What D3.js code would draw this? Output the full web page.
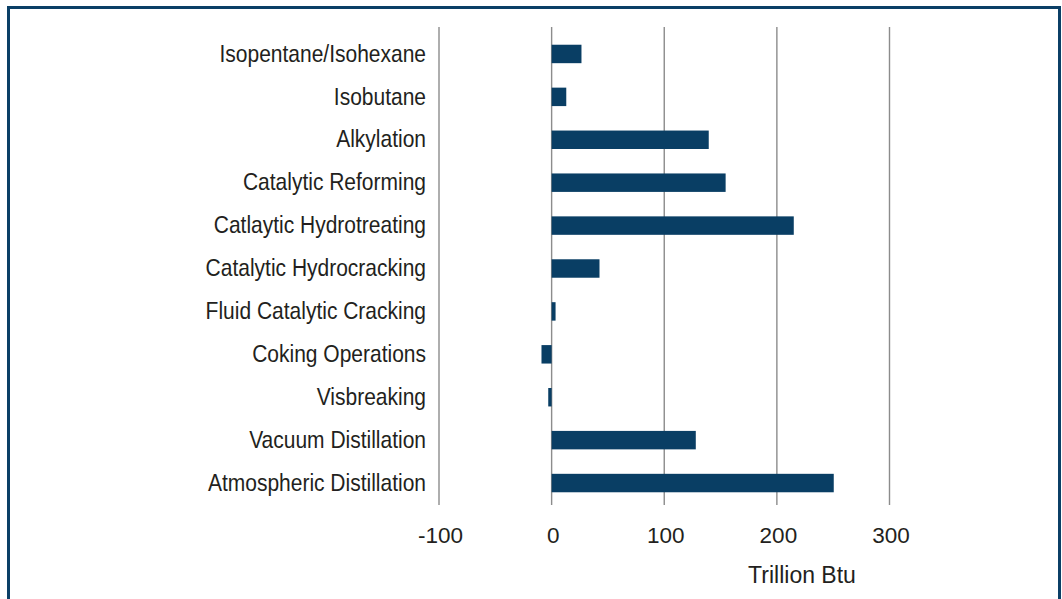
<!DOCTYPE html>
<html>
<head>
<meta charset="utf-8">
<script src="https://cdn.jsdelivr.net/npm/d3@7"></script>
<style>
  body { margin: 0; background: #fff; }
  svg { display: block; }
</style>
</head>
<body>
<div id="chart"></div>
<script>
var categories = ["Isopentane/Isohexane", "Isobutane", "Alkylation", "Catalytic Reforming",
  "Catlaytic Hydrotreating", "Catalytic Hydrocracking", "Fluid Catalytic Cracking",
  "Coking Operations", "Visbreaking", "Vacuum Distillation", "Atmospheric Distillation"];
var values = [26.5, 13, 139.5, 154.5, 215, 42.5, 3.5, -9, -3, 128, 250.5];
var tickValues = [-100, 0, 100, 200, 300];
var axisTitle = "Trillion Btu";

var w = 1062, h = 599;
var barColor = "#093e64";
var textColor = "#231f20";

var svg = d3.select("#chart")
	.append("svg")
	.attr("width", w)
	.attr("height", h);

var x = d3.scaleLinear()
	.domain([-100, 300])
	.range([439, 889.5]);

var y = d3.scaleBand()
	.domain(categories)
	.range([32.5, 504.5])
	.paddingInner(0.57)
	.paddingOuter(0.285);

// vertical gridlines
svg.append("g").selectAll("line")
	.data(tickValues)
	.enter()
	.append("line")
	.attr("x1", function(d){ return x(d); })
	.attr("x2", function(d){ return x(d); })
	.attr("y1", 27)
	.attr("y2", 505)
	.attr("stroke", "#8c8c8c")
	.attr("stroke-width", 1.4);

// bars
svg.append("g").selectAll("rect")
	.data(values)
	.enter()
	.append("rect")
	.attr("x", function(d){ return x(Math.min(0, d)); })
	.attr("width", function(d){ return Math.abs(x(d) - x(0)); })
	.attr("y", function(d, i){ return y(categories[i]); })
	.attr("height", y.bandwidth())
	.attr("fill", barColor);

// category labels (condensed look: horizontally squeezed Liberation Sans)
var yAxis = svg.append("g")
	.attr("transform", "translate(426,0)")
	.call(d3.axisLeft(y).tickSize(0).tickPadding(0));
yAxis.select(".domain").remove();
yAxis.selectAll("text")
	.attr("x", 0)
	.attr("transform", "scale(0.875,1)")
	.attr("font-family", "'Liberation Sans', Arial, sans-serif")
	.attr("font-size", 24)
	.attr("fill", textColor);

// x tick labels
var xAxis = svg.append("g")
	.attr("transform", "translate(1,520)")
	.call(d3.axisBottom(x).tickValues(tickValues)
		.tickFormat(function(d){ return String(d); })
		.tickSize(0).tickPadding(0));
xAxis.select(".domain").remove();
xAxis.selectAll("text")
	.attr("dy", null)
	.attr("y", 23)
	.attr("font-family", "'Liberation Sans', Arial, sans-serif")
	.attr("font-size", 22.5)
	.attr("fill", textColor);

svg.append("text")
	.attr("x", 802)
	.attr("y", 583)
	.attr("text-anchor", "middle")
	.attr("font-family", "'Liberation Sans', Arial, sans-serif")
	.attr("font-size", 23)
	.attr("fill", textColor)
	.text(axisTitle);

// frame
svg.append("path")
	.attr("d", "M8.5," + h + "V7.5H1059.5V" + h)
	.attr("fill", "none")
	.attr("stroke", "#0b3f66")
	.attr("stroke-width", 3);
</script>
</body>
</html>
